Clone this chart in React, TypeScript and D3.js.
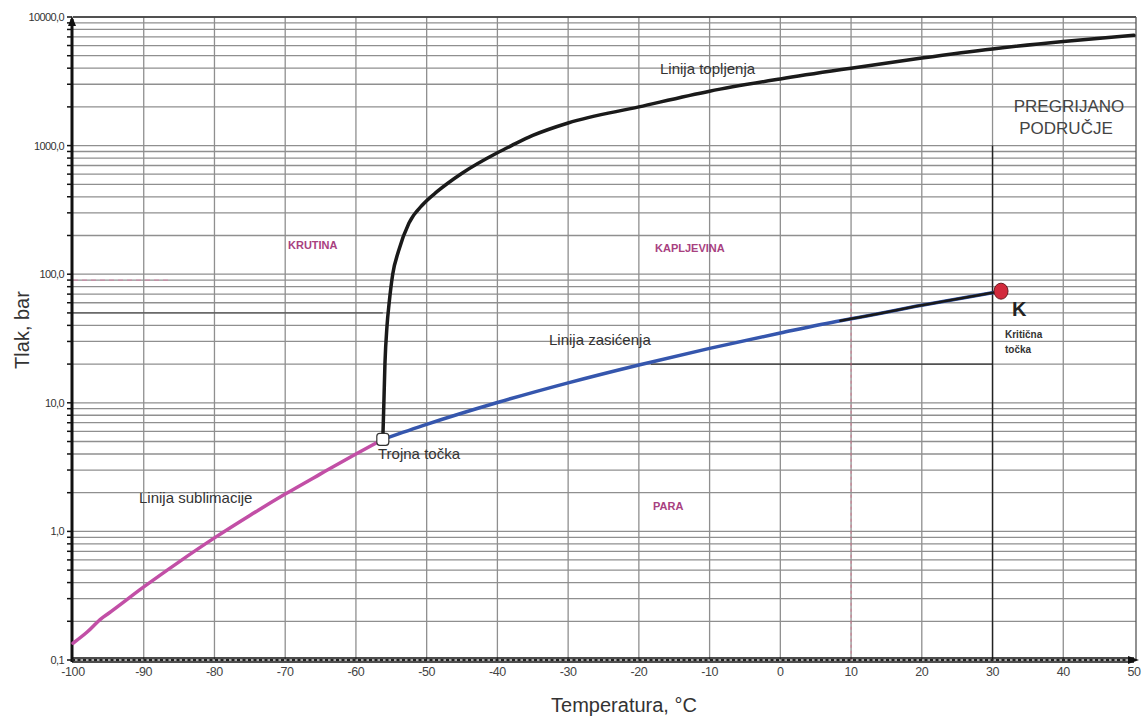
import React from "react";
import * as d3 from "d3";

const xTicks = [-100, -90, -80, -70, -60, -50, -40, -30, -20, -10, 0, 10, 20, 30, 40, 50];
const yMajor = [0.1, 1, 10, 100, 1000, 10000];
const yMajorLabels = ["0,1", "1,0", "10,0", "100,0", "1000,0", "10000,0"];

// Linija sublimacije [T °C, p bar]
const sublimation: [number, number][] = [
  [-100, 0.135], [-98, 0.165], [-96, 0.21], [-95, 0.23], [-90, 0.37], [-85, 0.58],
  [-80, 0.89], [-75, 1.33], [-70, 1.95], [-65, 2.8], [-60, 4.0], [-56.2, 5.2],
];
// Linija zasićenja
const saturation: [number, number][] = [
  [-56.2, 5.2], [-50, 6.8], [-40, 10.05], [-30, 14.3], [-20, 19.7], [-10, 26.5],
  [0, 34.9], [8.5, 43.5], [10, 45], [20, 57.3], [31.2, 73.8],
];
const saturationBlackFrom = 8.5;
// Linija topljenja
const melting: [number, number][] = [
  [-56.2, 5.2], [-56.05, 10], [-55.9, 20], [-55.6, 40], [-55.3, 60], [-54.8, 100],
  [-54.0, 150], [-52.5, 250], [-50.5, 350], [-48.5, 440], [-45, 610],
  [-40, 880], [-38, 1000], [-35, 1200], [-30, 1500], [-20, 2000], [-10, 2650],
  [0, 3300], [10, 4000], [20, 4800], [30, 5650], [40, 6450], [50, 7200],
];
const triplePoint: [number, number] = [-56.2, 5.2];
const criticalPoint: [number, number] = [31.2, 73.8];

const W = 1145, H = 716;
const x = d3.scaleLinear().domain([-100, 50]).range([73, 1134]);
const y = d3.scaleLog().domain([0.1, 10000]).range([660, 17]);

const minorVals: number[] = [];
for (let e = -1; e < 4; e++) {
  for (let m = 1; m <= 9; m++) minorVals.push(m * Math.pow(10, e));
}
minorVals.push(10000);

const line = d3.line<[number, number]>()
  .x((d) => x(d[0]))
  .y((d) => y(d[1]))
  .curve(d3.curveMonotoneX);

const FONT = "Liberation Sans, Arial, sans-serif";

export default function App() {
  const satBlue = saturation;
  const satBlack = saturation.filter((d) => d[0] >= saturationBlackFrom);
  const regionColor = "#a8417f";
  const grid = "#8f8f8f";
  return (
    <svg width={W} height={H} style={{ position: "absolute", left: 0, top: 0, background: "#fff" }} fontFamily={FONT}>
      {/* horizontal grid */}
      {minorVals.map((v, i) => (
        <line key={"h" + i} x1={x(-100)} x2={1136} y1={y(v)} y2={y(v)} stroke={grid} strokeWidth={1.3} />
      ))}
      {/* vertical grid */}
      {xTicks.slice(1, -1).map((t) => (
        <line key={"v" + t} x1={x(t)} x2={x(t)} y1={y(10000)} y2={y(0.1)} stroke={grid} strokeWidth={1.3} />
      ))}
      {/* darker reference lines */}
      <line x1={x(-100)} x2={x(-56.2)} y1={y(50)} y2={y(50)} stroke="#555" strokeWidth={1.1} />
      <line x1={x(-18.3)} x2={x(30)} y1={y(20)} y2={y(20)} stroke="#333" strokeWidth={1.1} />
      <line x1={x(30)} x2={x(30)} y1={y(1000)} y2={y(0.1)} stroke="#222" strokeWidth={1.4} />
      <line x1={x(10)} x2={x(10)} y1={y(60)} y2={y(0.1)} stroke="#e06080" strokeWidth={1} strokeDasharray="3,3" opacity={0.7} />
      <line x1={x(-100)} x2={x(-86)} y1={y(90)} y2={y(90)} stroke="#e070a0" strokeWidth={1} strokeDasharray="5,4" opacity={0.7} />
      {/* borders */}
      <line x1={x(-100)} x2={1136} y1={y(10000)} y2={y(10000)} stroke="#333" strokeWidth={1.5} />
      <line x1={1136} x2={1136} y1={y(10000)} y2={y(0.1)} stroke="#555" strokeWidth={1.3} />

      {/* y axis */}
      <line x1={72} x2={72} y1={y(0.1) + 2} y2={y(10000) + 2} stroke="#111" strokeWidth={3} />
      <path d={`M72,${y(10000) - 1} L68,${y(10000) + 9} L76,${y(10000) + 9} Z`} fill="#111" />
      {minorVals.map((v, i) => (
        <line key={"yt" + i} x1={67} x2={72} y1={y(v)} y2={y(v)} stroke="#111" strokeWidth={1.5} />
      ))}
      {yMajor.map((v, i) => (
        <text key={"yl" + i} x={64} y={y(v) + 4} textAnchor="end" fontSize={11} fill="#333" letterSpacing={-0.6}>
          {yMajorLabels[i]}
        </text>
      ))}

      {/* x axis */}
      <line x1={72} x2={1134} y1={658} y2={658} stroke="#111" strokeWidth={1.4} />
      <line x1={72} x2={1134} y1={662} y2={662} stroke="#111" strokeWidth={1.4} />
      <line x1={72} x2={1134} y1={660} y2={660} stroke="#222" strokeWidth={2} strokeDasharray="3,2.5" />
      <path d={`M1139,660 L1128,656 L1128,664 Z`} fill="#111" />
      {xTicks.map((t) => (
        <text key={"xl" + t} x={x(t)} y={676} textAnchor="middle" fontSize={12.5} fill="#444" letterSpacing={-0.4}>
          {t}
        </text>
      ))}

      {/* curves */}
      <path d={line(sublimation) || ""} fill="none" stroke="#c24fa6" strokeWidth={3.5} strokeLinecap="round" />
      <path d={line(satBlue) || ""} fill="none" stroke="#3556ad" strokeWidth={3.5} strokeLinecap="round" />
      <path d={line(satBlack) || ""} fill="none" stroke="#1a1a1a" strokeWidth={2.5} strokeLinecap="round" />
      <path d={line(melting) || ""} fill="none" stroke="#1a1a1a" strokeWidth={3.5} strokeLinecap="round" />

      {/* points */}
      <rect x={x(triplePoint[0]) - 6} y={y(triplePoint[1]) - 6} width={12} height={12} rx={3} fill="#fff" stroke="#333" strokeWidth={1.2} />
      <ellipse cx={x(criticalPoint[0])} cy={y(criticalPoint[1])} rx={7} ry={8} fill="#d22a3c" stroke="#6a1a20" strokeWidth={1} />

      {/* labels */}
      <text x={660} y={74} fontSize={15} fill="#333">Linija topljenja</text>
      <text x={1069} y={112} fontSize={17} fill="#444" textAnchor="middle">PREGRIJANO</text>
      <text x={1066} y={134} fontSize={17} fill="#444" textAnchor="middle">PODRUČJE</text>
      <text x={288} y={249} fontSize={11} fontWeight="bold" fill={regionColor}>KRUTINA</text>
      <text x={655} y={252} fontSize={11} fontWeight="bold" fill={regionColor}>KAPLJEVINA</text>
      <text x={653} y={510} fontSize={11} fontWeight="bold" fill={regionColor}>PARA</text>
      <text x={549} y={345} fontSize={15} fill="#333">Linija zasićenja</text>
      <text x={378} y={459} fontSize={15} fill="#333">Trojna točka</text>
      <text x={139} y={503} fontSize={15} fill="#333">Linija sublimacije</text>
      <text x={1012} y={316} fontSize={20} fontWeight="bold" fill="#222">K</text>
      <text x={1005} y={338} fontSize={10} fontWeight="bold" fill="#333">Kritična</text>
      <text x={1005} y={353} fontSize={10} fontWeight="bold" fill="#333">točka</text>

      <text x={624} y={712} fontSize={20} fill="#333" textAnchor="middle">Temperatura, °C</text>
      <text transform={`translate(29,330) rotate(-90)`} fontSize={20} fill="#333" textAnchor="middle">Tlak, bar</text>
    </svg>
  );
}
